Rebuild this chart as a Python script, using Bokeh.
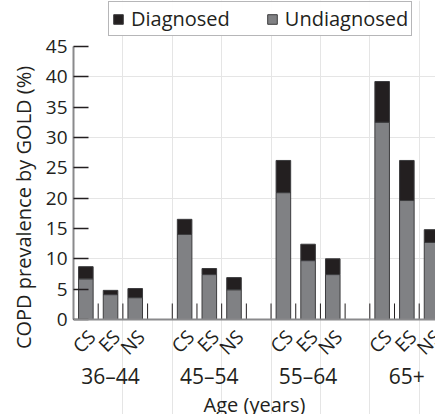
import math
import numpy as np
from bokeh.plotting import figure
from bokeh.core.properties import value
from bokeh.models import (Range1d, LinearAxis, FixedTicker, Legend, LegendItem,
                          ColumnDataSource, Span, Title)
from bokeh.embed import file_html
from bokeh.resources import INLINE

# ---- data ----
age_groups = ["36–44", "45–54", "55–64", "65+"]
smoking = ["CS", "ES", "NS"]
undiagnosed = [6.7, 4.1, 3.6, 14.0, 7.4, 4.9, 20.9, 9.7, 7.4, 32.5, 19.6, 12.7]
diagnosed = [2.0, 0.7, 1.5, 2.5, 1.0, 2.0, 5.3, 2.7, 2.6, 6.7, 6.6, 2.1]
y_ticks = [0, 5, 10, 15, 20, 25, 30, 35, 40, 45]
x_title = "Age (years)"
y_title = "COPD prevalence by GOLD (%)"

FONT = "Open Sans"
GRAY = "#808184"
BLACK = "#231f20"
EDGE = "#3c3c3e"
AXIS = "#8a8a8c"

# slot layout: 3 bars per group + 1 empty slot
xs, labels, bounds = [], [], []
for g in range(len(age_groups)):
    for i in range(len(smoking)):
        xs.append(g * 4 + i + 0.5)
        labels.append(smoking[i])
    for b in range(4):
        bounds.append(g * 4 + b)
group_centers = [g * 4 + 1.5 for g in range(len(age_groups))]

und = np.array(undiagnosed)
tot = und + np.array(diagnosed)
src = ColumnDataSource(dict(x=xs, und=list(und), tot=list(tot), lab=labels, zero=[0] * len(xs)))

X0, X1 = 0, 14.66
Y0, Y1 = -15.65, 52.55
p = figure(width=435, height=414, output_backend="svg", toolbar_location=None,
           x_range=Range1d(X0, X1), y_range=Range1d(Y0, Y1),
           x_axis_location=None, y_axis_location=None,
           min_border_left=73, min_border_right=0, min_border_top=0, min_border_bottom=0)
p.outline_line_color = None
p.background_fill_color = "white"

r_und = p.vbar(x="x", bottom=0, top="und", width=0.59, source=src,
               fill_color=GRAY, line_color=EDGE, line_width=1)
r_diag = p.vbar(x="x", bottom="und", top="tot", width=0.59, source=src,
                fill_color=BLACK, line_color=EDGE, line_width=1)

# baseline (x axis line) and slot tick marks
p.add_layout(Span(location=0, dimension="width", line_color=AXIS, line_width=2))
p.ray(x=bounds, y=[0] * len(bounds), length=16, length_units="screen", angle=math.pi / 2,
      line_color=BLACK, line_width=1)

# smoking-status labels (rotated)
p.text(x="x", y="zero", text="lab", source=src, angle=math.pi / 4,
       text_align="right", text_baseline="middle", x_offset=6, y_offset=14,
       text_font=value(FONT), text_font_size="19px", text_color=BLACK)
# age group labels
p.text(x=group_centers, y=[0] * len(group_centers), text=age_groups,
       text_align="center", text_baseline="alphabetic", y_offset=57,
       text_font=value(FONT), text_font_size="21px", text_color=BLACK)
# x title
p.text(x=[(X0 + X1) / 2], y=[0], text=[x_title], text_align="center",
       text_baseline="alphabetic", y_offset=85,
       text_font=value(FONT), text_font_size="20px", text_color=BLACK)

yaxis = LinearAxis(ticker=FixedTicker(ticks=y_ticks), bounds=(0, 45),
                   axis_line_color=AXIS, axis_line_width=2,
                   major_tick_in=15, major_tick_out=0, major_tick_line_color=BLACK,
                   major_tick_line_width=1.5, minor_tick_line_color=None,
                   major_label_text_font=FONT, major_label_text_font_size="19px",
                   major_label_text_color=BLACK, major_label_standoff=6)
p.add_layout(yaxis, "left")

# y title as a left-side title, lifted to sit beside the 0-45 scale
p.add_layout(Title(text=y_title, align="center", offset=32, standoff=12,
                   text_font=FONT, text_font_size="20px", text_font_style="normal",
                   text_color=BLACK), "left")

legend = Legend(items=[LegendItem(label="Diagnosed", renderers=[r_diag]),
                       LegendItem(label="Undiagnosed", renderers=[r_und])],
                orientation="horizontal", location=(35, 378),
                border_line_color="#6d6e71", border_line_width=1.5,
                glyph_width=12, glyph_height=12, label_standoff=7, spacing=36,
                padding=3, margin=0,
                label_text_font=FONT, label_text_font_size="20px", label_text_color=BLACK)
p.add_layout(legend)

open("out.html", "w").write(file_html(p, INLINE))
